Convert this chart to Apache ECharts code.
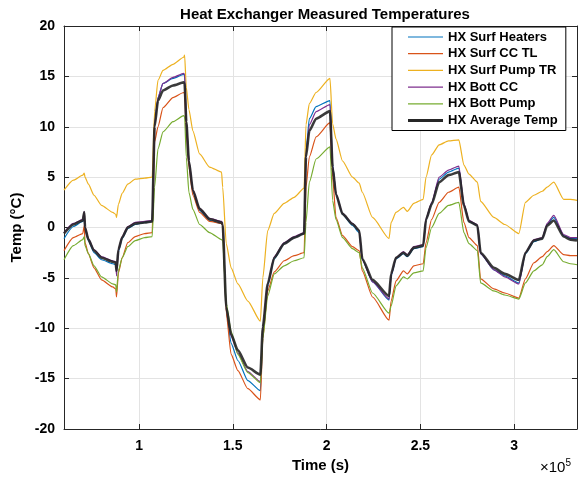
<!DOCTYPE html>
<html>
<head>
<meta charset="utf-8">
<script src="https://cdn.jsdelivr.net/npm/echarts@6/dist/echarts.min.js"></script>
<style>
  html, body { margin: 0; padding: 0; background: #fff; }
  #main { width: 579px; height: 484px; }
</style>
</head>
<body>
<div id="main"></div>
<script>
// time stamps (s) shared by every sensor trace
var timeS = [60000, 65000, 70000, 70800, 71200, 73000, 76000, 80000, 86000, 87600,
  88000, 89000, 91000, 94000, 98000, 103000, 107000, 108300, 110100, 112800,
  118100, 123800, 124300, 125200, 126600, 128700, 132300, 137600, 144000, 144600,
  146500, 149100, 152700, 158000, 164700, 166000, 168600, 172100, 177400, 182700,
  188000, 189000, 190800, 194400, 201800, 203200, 205000, 208500, 213800, 217400,
  219000, 224500, 233300, 234400, 237000, 241000, 243000, 246500, 251500, 253000,
  256000, 260000, 265000, 270500, 273200, 275900, 280400, 282100, 289200, 295000,
  302500, 306000, 310500, 315000, 317600, 321100, 326400, 330000, 333500];

var surfHeaters = [-1.1, 0.1, 0.6, 0.9, -0.2, -1.3, -2.5, -3.2, -3.6, -3.7,
  -4.1, -2.4, -1.1, -0.1, 0.3, 0.5, 0.6, 10.3, 12.9, 14.3,
  14.8, 15.2, 15.1, 10.5, 6.6, 3.6, 1.7, 0.7, 0.4, 0.2,
  -8.3, -11.5, -13.2, -15.2, -16.2, -10.5, -5.8, -3.1, -1.6, -1.0,
  -0.6, 7.5, 10.8, 12.0, 12.6, 6.3, 3.3, 1.3, 0.2, -0.5,
  -3.2, -5.4, -7.2, -4.8, -3.1, -2.6, -2.9, -2.1, -1.9, 0.8,
  2.4, 4.8, 5.5, 5.9, 2.3, 0.6, 0.2, -2.6, -4.2, -4.8,
  -5.5, -2.6, -1.4, -1.1, 0.3, 1.0, -0.8, -1.1, -1.1];

var surfCCTL = [-2.3, -1.0, -0.6, 0.2, -1.5, -2.6, -4.0, -5.2, -5.9, -6.1,
  -6.9, -4.5, -3.0, -1.5, -0.9, -0.6, -0.5, 8.5, 10.0, 11.9,
  12.9, 13.4, 13.3, 9.5, 6.0, 3.2, 1.5, 0.6, 0.4, 0.2,
  -8.5, -12.6, -14.2, -16.0, -17.1, -11.0, -6.3, -4.4, -3.3, -2.8,
  -2.5, 4.0, 7.0, 9.0, 10.4, 5.0, 1.0, -0.8, -1.9, -2.3,
  -4.3, -6.9, -9.2, -7.3, -5.3, -4.3, -4.6, -3.8, -3.6, -1.5,
  0.8, 2.5, 3.5, 4.0, 0.5, -1.0, -1.8, -5.1, -6.1, -6.5,
  -7.0, -5.1, -3.5, -2.9, -2.4, -1.8, -2.7, -2.8, -2.8];

var surfPumpTR = [3.7, 4.7, 5.2, 5.4, 5.0, 4.3, 3.2, 2.2, 1.5, 1.3,
  1.0, 2.3, 3.4, 4.3, 4.8, 4.9, 5.0, 11.5, 14.6, 15.6,
  16.2, 16.9, 17.1, 13.9, 11.7, 9.6, 7.3, 6.0, 5.5, 4.0,
  -1.6, -4.0, -5.6, -7.3, -9.3, -5.0, -0.3, 1.4, 2.4, 3.0,
  3.9, 10.2, 12.3, 13.4, 14.8, 10.3, 8.8, 6.6, 5.0, 4.4,
  3.5, 1.0, -1.1, 0.5, 1.5, 2.0, 1.6, 2.4, 2.8, 5.0,
  7.2, 8.2, 8.6, 8.7, 6.2, 5.3, 4.5, 2.6, 1.0, 0.3,
  -0.6, 2.5, 3.2, 3.6, 4.0, 4.5, 2.8, 2.8, 2.7];

var bottCC = [-0.5, 0.4, 0.8, 1.6, 0.1, -1.1, -2.2, -2.9, -3.3, -3.4,
  -4.8, -2.2, -0.9, 0.1, 0.5, 0.6, 0.7, 10.2, 12.9, 14.3,
  14.9, 15.3, 15.2, 10.6, 6.7, 3.7, 1.9, 0.9, 0.6, 0.4,
  -7.9, -10.8, -12.5, -14.3, -15.3, -10.0, -5.6, -2.9, -1.5, -0.9,
  -0.5, 7.2, 10.2, 11.5, 12.2, 6.2, 3.4, 1.4, 0.4, -0.3,
  -3.2, -5.4, -7.1, -4.7, -3.0, -2.4, -2.7, -1.9, -1.7, 0.9,
  2.5, 5.0, 5.7, 6.1, 2.4, 0.7, 0.3, -2.6, -4.2, -4.9,
  -5.6, -2.5, -1.2, -1.0, 0.4, 1.2, -0.7, -1.0, -1.0];

var bottPump = [-3.2, -1.8, -1.2, -0.9, -1.8, -2.6, -3.8, -4.9, -5.6, -5.7,
  -6.4, -4.3, -3.0, -1.9, -1.3, -1.0, -0.9, 4.0, 7.8, 9.5,
  10.5, 11.1, 11.0, 7.0, 3.5, 1.8, 0.3, -0.5, -1.2, -1.3,
  -7.5, -10.3, -12.6, -14.4, -15.4, -11.0, -6.8, -4.6, -3.8, -3.3,
  -3.0, 0.5, 4.5, 6.8, 8.0, 2.7, 0.8, -1.0, -2.1, -2.5,
  -4.0, -6.5, -8.5, -7.8, -5.8, -4.9, -5.1, -4.5, -4.3, -2.0,
  0.0, 1.4, 2.2, 2.5, -0.5, -1.6, -2.3, -5.5, -6.3, -6.7,
  -7.1, -5.5, -4.3, -3.7, -2.9, -2.2, -3.4, -3.6, -3.7];

var avgTemp = [-0.6, 0.3, 0.7, 1.5, 0.0, -1.2, -2.3, -3.0, -3.4, -3.5,
  -4.3, -2.2, -1.0, 0.0, 0.4, 0.5, 0.6, 10.0, 12.6, 13.6,
  14.1, 14.4, 14.3, 10.5, 6.6, 3.7, 1.85, 0.85, 0.5, 0.3,
  -7.9, -10.6, -12.2, -13.9, -14.6, -9.9, -5.6, -3.0, -1.6, -1.0,
  -0.6, 7.0, 9.6, 10.8, 11.55, 6.0, 3.3, 1.35, 0.35, -0.3,
  -3.1, -5.2, -6.8, -4.6, -3.0, -2.5, -2.8, -2.0, -1.8, 0.8,
  2.3, 4.5, 5.2, 5.5, 2.2, 0.6, 0.2, -2.5, -4.0, -4.6,
  -5.2, -2.5, -1.3, -1.1, 0.2, 0.7, -0.9, -1.2, -1.3];

var seriesNames = ['HX Surf Heaters', 'HX Surf CC TL', 'HX Surf Pump TR',
  'HX Bott CC', 'HX Bott Pump', 'HX Average Temp'];
var seriesColors = ['#0072BD', '#D95319', '#EDB120', '#7E2F8E', '#77AC30', '#262626'];
var xTicks = [100000, 150000, 200000, 250000, 300000];

var FONT = '"Liberation Sans", Arial, Helvetica, sans-serif';
var myChart = echarts.init(document.getElementById('main'));

function pairs(vals) {
    var out = [];
    for (var i = 0; i < timeS.length; i++) out.push([timeS[i], vals[i]]);
    return out;
}

var allVals = [surfHeaters, surfCCTL, surfPumpTR, bottCC, bottPump, avgTemp];
var series = [];
var legendData = [];
for (var k = 0; k < allVals.length; k++) {
    var isAvg = (k === 5);
    series.push({
        name: seriesNames[k],
        type: 'line',
        data: pairs(allVals[k]),
        showSymbol: false,
        symbol: 'none',
        smooth: 0.2,
        smoothMonotone: 'x',
        lineStyle: { color: seriesColors[k], width: isAvg ? 2.6 : 1.2, opacity: isAvg ? 0.9 : 1 },
        itemStyle: { color: seriesColors[k] },
        z: isAvg ? 5 : 3,
        animation: false
    });
    legendData.push({
        name: seriesNames[k],
        icon: isAvg ? 'path://M0,0 L35,0 L35,3 L0,3 Z' : 'path://M0,0 L35,0 L35,1.2 L0,1.2 Z'
    });
}

var option = {
    animation: false,
    textStyle: { fontFamily: FONT },
    title: {
        text: 'Heat Exchanger Measured Temperatures',
        left: 320, top: 2, textAlign: 'center',
        textStyle: { fontSize: 15, fontWeight: 'bold', color: '#000', fontFamily: FONT }
    },
    legend: {
        orient: 'vertical',
        left: 392, top: 27,
        width: 185,
        padding: [3, 8, 3, 16],
        itemGap: 2.7,
        itemWidth: 35,
        itemHeight: 14,
        backgroundColor: '#fff',
        borderColor: '#000',
        borderWidth: 1,
        selectedMode: false,
        textStyle: { fontSize: 13, fontWeight: 'bold', color: '#000', fontFamily: FONT, lineHeight: 14 },
        data: legendData
    },
    grid: { left: 64, right: 2, top: 26, bottom: 55, show: false },
    xAxis: [{
        type: 'value', min: 60000, max: 333500,
        name: 'Time (s)', nameLocation: 'middle', nameGap: 28,
        nameTextStyle: { fontSize: 15, fontWeight: 'bold', color: '#000', fontFamily: FONT },
        axisLine: { show: true, onZero: false, lineStyle: { color: '#262626', width: 1 } },
        axisTick: { show: true, inside: true, length: 5, customValues: xTicks, lineStyle: { color: '#262626' } },
        axisLabel: { customValues: xTicks, margin: 10, fontSize: 14, fontWeight: 'bold', color: '#000',
            formatter: function (v) { return String(v / 100000); } },
        splitLine: { show: true, lineStyle: { color: '#e3e3e3', width: 1 } }
    }, {
        type: 'value', min: 60000, max: 333500, position: 'top',
        axisLine: { show: true, onZero: false, lineStyle: { color: '#262626', width: 1 } },
        axisTick: { show: true, inside: true, length: 5, customValues: xTicks, lineStyle: { color: '#262626' } },
        axisLabel: { show: false },
        splitLine: { show: false }
    }],
    yAxis: [{
        type: 'value', min: -20, max: 20, interval: 5,
        name: 'Temp (°C)', nameLocation: 'middle', nameGap: 36,
        nameTextStyle: { fontSize: 15, fontWeight: 'bold', color: '#000', fontFamily: FONT },
        axisLine: { show: true, onZero: false, lineStyle: { color: '#262626', width: 1 } },
        axisTick: { show: true, inside: true, length: 5, lineStyle: { color: '#262626' } },
        axisLabel: { margin: 9, fontSize: 14, fontWeight: 'bold', color: '#000' },
        splitLine: { show: true, lineStyle: { color: '#e3e3e3', width: 1 } }
    }, {
        type: 'value', min: -20, max: 20, interval: 5, position: 'right',
        axisLine: { show: true, onZero: false, lineStyle: { color: '#262626', width: 1 } },
        axisTick: { show: true, inside: true, length: 5, lineStyle: { color: '#262626' } },
        axisLabel: { show: false },
        splitLine: { show: false }
    }],
    graphic: [{
        type: 'text',
        left: 540, top: 458,
        style: {
            text: '×10{s|5}',
            font: '15px ' + FONT,
            fill: '#000',
            rich: { s: { fontSize: 10, verticalAlign: 'top', padding: [0, 0, 10, 0], fill: '#000' } }
        }
    }],
    series: series
};

myChart.setOption(option);
</script>
</body>
</html>
